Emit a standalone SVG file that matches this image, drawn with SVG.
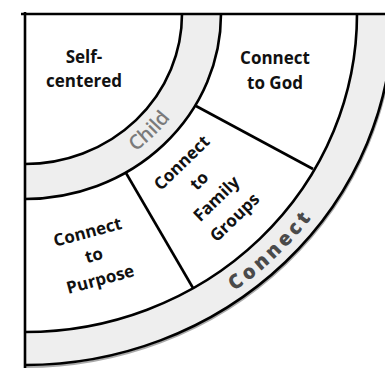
<svg xmlns="http://www.w3.org/2000/svg" width="385" height="368" viewBox="0 0 385 368">
<style>
.lbl{font-family:"Open Sans","Liberation Sans",sans-serif;font-weight:700;font-size:17px;fill:#111;text-anchor:middle}
.ln{fill:none;stroke:#000;stroke-width:2.6}
.band{fill:#eeeeee}
.white{fill:#fff}
</style>
<defs>
<path id="childArc" d="M25,187 A182,173 0 0,0 207,14"/>
<path id="connArc" d="M25,356 A357,342 0 0,0 382,14"/>
</defs>
<rect width="385" height="368" fill="#fff"/>
<g id="connect-band">
<path class="band" d="M25,14 L393,14 A368,351 0 0,1 25,365 Z"/>
<text font-family="Open Sans, Liberation Sans, sans-serif" font-weight="800" font-size="20" fill="#4a4a4a" letter-spacing="3.5" text-anchor="middle"><textPath href="#connArc" startOffset="50.5%">Connect</textPath></text>
</g>
<g id="connect-region">
<path class="white" d="M25,14 L357,14 A332,318 0 0,1 25,332 Z"/>
</g>
<g id="child-band">
<path class="band" d="M25,14 L221,14 A196,185 0 0,1 25,199 Z"/>
<text font-family="Open Sans, Liberation Sans, sans-serif" font-weight="600" font-size="20" fill="#7a7a7a" text-anchor="middle"><textPath href="#childArc" startOffset="51%">Child</textPath></text>
</g>
<g id="self-centered">
<path class="white" d="M25,14 L182,14 A157,150 0 0,1 25,164 Z"/>
<text class="lbl" x="84" y="63">Self-</text>
<text class="lbl" x="84" y="87">centered</text>
</g>
<g id="connect-god">
<text class="lbl" x="275" y="64">Connect</text>
<text class="lbl" x="275" y="89">to God</text>
</g>
<g id="connect-family" transform="translate(208,190) rotate(-44)">
<text class="lbl" x="0" y="-32">Connect</text>
<text class="lbl" x="0" y="-7">to</text>
<text class="lbl" x="0" y="18">Family</text>
<text class="lbl" x="0" y="44">Groups</text>
</g>
<g id="connect-purpose" transform="translate(94,256) rotate(-15)">
<text class="lbl" x="0" y="-19">Connect</text>
<text class="lbl" x="0" y="5">to</text>
<text class="lbl" x="0" y="30">Purpose</text>
</g>
<g id="connectors">
<path d="M25,367 A369,352 0 0,0 394,15" fill="none" stroke="#aaa" stroke-width="2"/>
<path class="ln" d="M25,365 A368,351 0 0,0 393,14" stroke-width="3"/>
<path class="ln" d="M25,332 A332,318 0 0,0 357,14"/>
<path class="ln" d="M25,199 A196,185 0 0,0 221,14"/>
<path class="ln" d="M25,164 A157,150 0 0,0 182,14"/>
<path class="ln" d="M196,106 L313,169"/>
<path class="ln" d="M126,173 L193,288"/>
<path class="ln" d="M21,14 H385" stroke-width="2.8"/>
<path class="ln" d="M25,12 V368" stroke-width="2.8"/>
</g>
</svg>
